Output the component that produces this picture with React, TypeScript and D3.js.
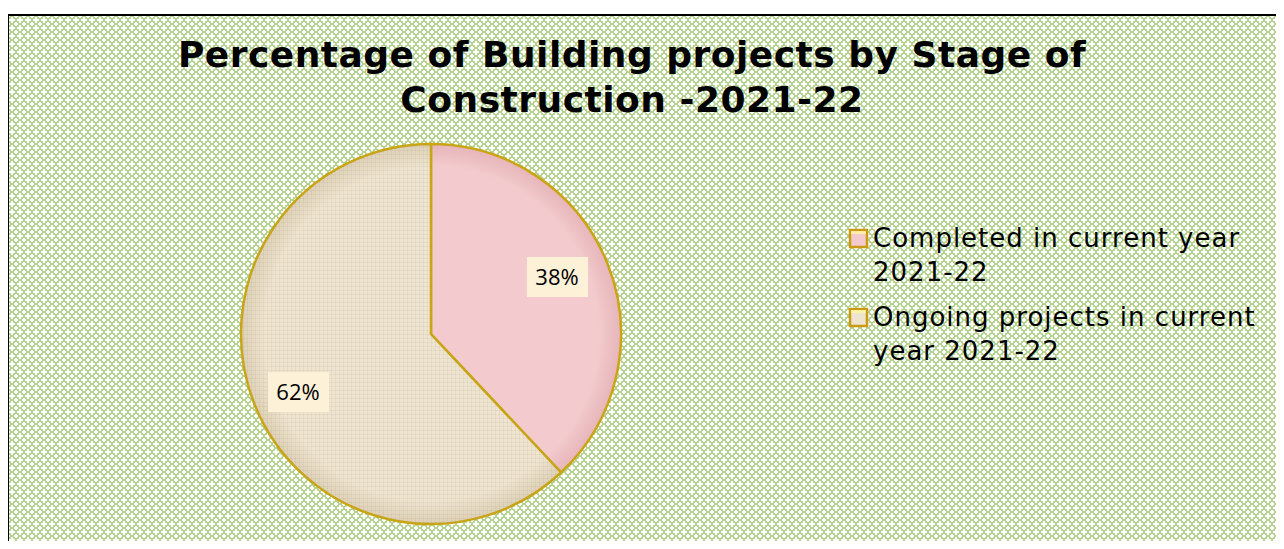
import React from 'react';
import * as d3 from 'd3';

const categories = ['Completed in current year 2021-22', 'Ongoing projects in current year 2021-22'];
const values = [38, 62];
const legendLines = [['Completed in current year', '2021-22'], ['Ongoing projects in current', 'year 2021-22']];
const titleLines = ['Percentage of Building projects by Stage of', 'Construction -2021-22'];
const sliceColors = ['#f3cbce', '#eee4cf'];
const sliceEdge = ['#e6b5b9', '#ddd0b5'];

const W = 1284;
const H = 549;
const cx = 431;
const cy = 334;
const R = 190;

// label box offsets from the pie centre (Excel placed them by hand)
const labelPos = [
  [125, -57],
  [-134, 58],
];

export default function App() {
  const pie = d3.pie<number>().sort(null).value(d => d);
  const arcs = pie(values);
  const arc = d3.arc<d3.PieArcDatum<number>>().innerRadius(0).outerRadius(R);

  return (
    <div style={{ margin: -8 }}>
      <svg width={W} height={H} style={{ display: 'block' }}>
        <defs>
          <pattern id="bg" width="8" height="8" patternUnits="userSpaceOnUse">
            <rect width="8" height="8" fill="#b3d28e" />
            <rect x="2" y="2" width="4" height="4" fill="#d2e6ba" transform="rotate(45 4 4)" />
            <rect x="3" y="1" width="2" height="6" fill="#fff" />
            <rect x="1" y="3" width="6" height="2" fill="#fff" />
            <rect x="0" y="0" width="1" height="2" fill="#fff" />
            <rect x="7" y="0" width="1" height="2" fill="#fff" />
            <rect x="0" y="6" width="1" height="2" fill="#fff" />
            <rect x="7" y="6" width="1" height="2" fill="#fff" />
            <rect x="0" y="0" width="2" height="1" fill="#fff" />
            <rect x="6" y="0" width="2" height="1" fill="#fff" />
            <rect x="0" y="7" width="2" height="1" fill="#fff" />
            <rect x="6" y="7" width="2" height="1" fill="#fff" />
          </pattern>
          {sliceColors.map((c, i) => (
            <radialGradient key={i} id={`g${i}`} cx={0} cy={0} r={R} gradientUnits="userSpaceOnUse">
              <stop offset="0%" stopColor={c} />
              <stop offset="88%" stopColor={c} />
              <stop offset="100%" stopColor={sliceEdge[i]} />
            </radialGradient>
          ))}
          <pattern id="weave" width="4" height="4" patternUnits="userSpaceOnUse">
            <rect x="0" y="0" width="4" height="1" fill="#9c8f76" opacity="0.1" />
            <rect x="0" y="0" width="1" height="4" fill="#9c8f76" opacity="0.1" />
          </pattern>
        </defs>
        <rect x={0} y={0} width={W} height={H} fill="#fff" />
        <rect x={8} y={15} width={W} height={H} fill="url(#bg)" stroke="#000" strokeWidth={2} />

        <g fontFamily="'DejaVu Sans', Verdana, sans-serif" fontWeight="bold" fontSize={36} letterSpacing={0.5} textAnchor="middle" fill="#000">
          {titleLines.map((t, i) => (
            <text key={i} x={632} y={67 + i * 45}>{t}</text>
          ))}
        </g>

        <g transform={`translate(${cx},${cy})`}>
          {arcs.map((a, i) => (
            <path key={i} d={arc(a) || ''} fill={`url(#g${i})`} stroke="#c9a514" strokeWidth={2.5} />
          ))}
          <path d={arc(arcs[1]) || ''} fill="url(#weave)" />
          {arcs.map((a, i) => {
            const [x, y] = labelPos[i];
            return (
              <g key={i}>
                <rect x={x - 29} y={y - 20} width={61} height={40} fill="#fdf1d8" />
                <text x={x + 1} y={y + 8} textAnchor="middle" fontFamily="'Open Sans', 'Liberation Sans', sans-serif" fontSize={22} fill="#000">
                  {d3.format('.0%')(a.data / d3.sum(values))}
                </text>
              </g>
            );
          })}
        </g>

        <g fontFamily="'DejaVu Sans', Verdana, sans-serif" fontSize={26} letterSpacing={1} fill="#000">
          {categories.map((c, i) => (
            <g key={c} transform={`translate(849,${229 + i * 79})`}>
              <rect x={1} y={1} width={17} height={17} fill={sliceColors[i]} stroke="#c99a12" strokeWidth={2.5} />
              <rect x={2} y={2} width={15} height={3} fill="#fff7a0" opacity={0.8} />
              {legendLines[i].map((l, j) => (
                <text key={j} x={24} y={18 + j * 34}>{l}</text>
              ))}
            </g>
          ))}
        </g>
      </svg>
    </div>
  );
}
